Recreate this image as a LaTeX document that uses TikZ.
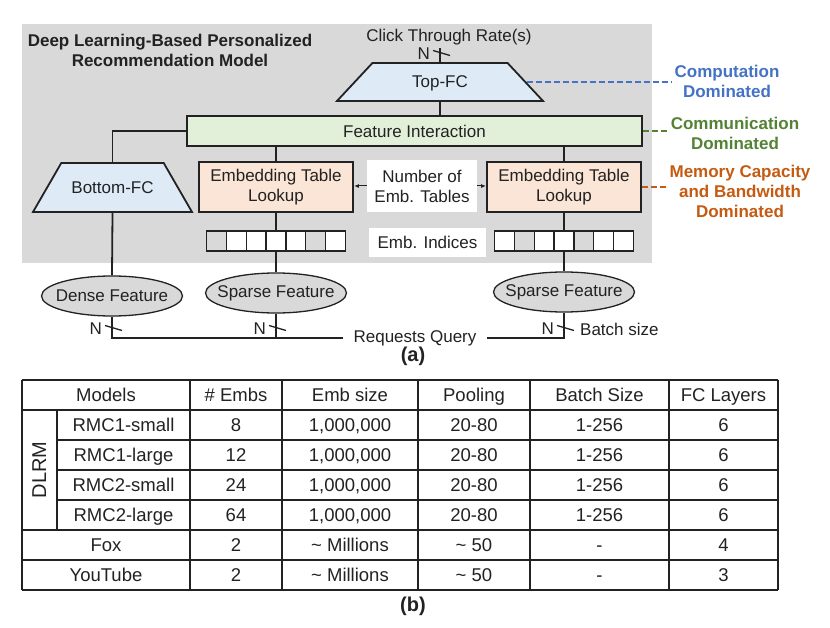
\documentclass[tikz,border=0pt]{standalone}
\usepackage{fontspec}
\setmainfont{Liberation Sans}
\usetikzlibrary{positioning,shapes,arrows.meta,calc}
\definecolor{bggray}{HTML}{D9D9D9}
\definecolor{fcblue}{HTML}{DEEBF7}
\definecolor{figreen}{HTML}{E2F0D9}
\definecolor{embpeach}{HTML}{FBE5D6}
\definecolor{compblue}{HTML}{4472C4}
\definecolor{commgreen}{HTML}{548235}
\definecolor{memorange}{HTML}{C55A11}
\definecolor{linegray}{HTML}{222222}

\begin{document}
\begin{tikzpicture}[x=1pt,y=-1pt,color=linegray,
      font=\fontsize{17}{20}\selectfont,
      block/.style={rectangle, draw, line width=1.8pt, align=center, inner sep=0pt},
      fc/.style={trapezium, draw, line width=1.8pt, fill=fcblue, trapezium stretches body=true, inner xsep=0pt, text height=12pt, text depth=0pt},
      feat/.style={ellipse, draw, line width=1.3pt, fill=bggray, minimum width=141pt, minimum height=40pt, inner sep=0pt},
      cell/.style={rectangle, draw, line width=1.4pt, minimum width=19.86pt, minimum height=20pt, inner sep=0pt},
      tag/.style={rectangle, fill=white, align=center, inner sep=0pt},
      wire/.style={line width=1.8pt},
      dom/.style={font=\fontsize{17}{20}\selectfont\bfseries, align=center, inner sep=3pt},
      hint/.style={line width=1.5pt, dash pattern=on 6pt off 3pt},
      grid/.style={line width=1.3pt},
      tcell/.style={font=\fontsize{18.5}{22}\selectfont, text height=13pt, text depth=0pt, inner sep=0pt}
      ]
      \useasboundingbox (0,0) rectangle (830,628);
      \fill[bggray] (22,24) rectangle (652,263);
      \node[font=\fontsize{17}{20}\selectfont\bfseries, align=center] (TITLE) at (170,50) {Deep Learning-Based Personalized\\Recommendation Model};
      \node (CTR) at (449,37) {Click Through Rate(s)};
      \node[fc, trapezium angle=47, inner ysep=13pt, minimum width=206pt] (TOP) at (440,82) {Top-FC};
      \node[block, fill=figreen, minimum width=455pt, minimum height=30pt] (FI) at (414.5,131) {Feature Interaction};
      \node[fc, trapezium angle=60, inner ysep=18.5pt, minimum width=159pt] (BOT) at (112.5,187.5) {Bottom-FC};
      \node[block, fill=embpeach, minimum width=154pt, minimum height=50pt] (ETL1) at (276,187) {Embedding Table\\Lookup};
      \node[block, fill=embpeach, minimum width=154pt, minimum height=50pt] (ETL2) at (564,187) {Embedding Table\\Lookup};
      \node[tag, minimum width=110pt, minimum height=52pt] (NUM) at (422,186) {Number of\\Emb. Tables};
      \node[tag, minimum width=117pt, minimum height=29pt] (IDX) at (427.5,242.5) {Emb. Indices};
      \foreach \i/\c in {1/bggray,2/white,3/white,4/white,5/white,6/bggray,7/white}
        \node[cell, fill=\c] (IA\i) at ({276+(\i-4)*19.86},241) {};
      \foreach \i/\c in {1/white,2/bggray,3/white,4/white,5/bggray,6/white,7/white}
        \node[cell, fill=\c] (IB\i) at ({564+(\i-4)*19.86},241) {};
      \node[feat, label=center:Dense Feature] (DEN) at (112,296) {};
      \node[feat, label=center:Sparse Feature] (SP1) at (276,293) {};
      \node[feat, label=center:Sparse Feature] (SP2) at (564,292) {};
      \node[inner xsep=10pt] (RQ) at (415,338) {Requests Query};
      \node[anchor=west, inner sep=0pt] (BS) at (580,329) {Batch size};
      \node[dom, text=compblue] (COMP) at (727,81) {Computation\\Dominated};
      \node[dom, text=commgreen] (COMM) at (735,133.5) {Communication\\Dominated};
      \node[dom, text=memorange] (MEM) at (740,191.5) {Memory Capacity\\and Bandwidth\\Dominated};
      \node[font=\fontsize{20}{24}\selectfont\bfseries] (LA) at (413,356) {(a)};

      \draw[wire] (TOP.north) -- (TOP.north |- CTR.south);
      \draw[wire] (TOP.south) -- (TOP.south |- FI.north);
      \draw[wire] (FI.west) -| (BOT.north);
      \draw[wire] (FI.south -| ETL1.north) -- (ETL1.north);
      \draw[wire] (FI.south -| ETL2.north) -- (ETL2.north);
      \draw[wire] (ETL1.south) -- (IA4.north);
      \draw[wire] (IA4.south) -- (SP1.north);
      \draw[wire] (ETL2.south) -- (IB4.north);
      \draw[wire] (IB4.south) -- (SP2.north);
      \draw[wire] (BOT.south) -- (DEN.north);
      \draw[wire] (DEN.south) |- (RQ.west);
      \draw[wire] (SP1.south) -- (SP1.south |- RQ.west);
      \draw[wire] (SP2.south) |- (RQ.east);
      \draw[line width=1pt, -{Latex[length=5pt,width=4pt]}] (NUM.west) -- (ETL1.east |- NUM.west);
      \draw[line width=1pt, -{Latex[length=5pt,width=4pt]}] (NUM.east) -- (ETL2.west |- NUM.east);
      \foreach \x/\y [count=\k] in {440/53,112/328,276/328,564/328} {
        \draw[line width=1.3pt] (\x-7,\y-2.5) -- (\x+10,\y+2.5);
        \node[left=10pt, inner sep=0pt] (N\k) at (\x,\y+1) {N};
      }
      \draw[hint, compblue] (TOP.east) -- (TOP.east -| COMP.west);
      \draw[hint, commgreen] (FI.east) -- (FI.east -| COMM.west);
      \draw[hint, memorange] (ETL2.east) -- (ETL2.east -| MEM.west);

      \foreach \y in {380,410,530,560,590} \draw[grid] (22,\y) -- (778,\y);
      \foreach \y in {440,470,500} \draw[grid] (57,\y) -- (778,\y);
      \foreach \x in {22,190,282,418,530,669,778} \draw[grid] (\x,380) -- (\x,590);
      \draw[grid] (57,410) -- (57,530);
      \path[every node/.style={tcell}] (106,395) node (H1) {Models} (236,395) node (H2) {\# Embs} (350,395) node (H3) {Emb size}
        (474,395) node (H4) {Pooling} (599.5,395) node (H5) {Batch Size} (723.5,395) node (H6) {FC Layers};
      \node[tcell, font=\fontsize{20}{24}\selectfont, rotate=90] (DLRM) at (39.5,470) {DLRM};
      \foreach \m/\e [count=\r] in {RMC1-small/8,RMC1-large/12,RMC2-small/24,RMC2-large/64} {
        \pgfmathsetmacro\y{395+30*\r}
        \path[every node/.style={tcell}] (123.5,\y) node (MOD\r) {\m} (236,\y) node (EMB\r) {\e} (350,\y) node (ESZ\r) {1,000,000}
          (474,\y) node (POOL\r) {20-80} (599.5,\y) node (BAT\r) {1-256} (723.5,\y) node (FC\r) {6};
      }
      \path[every node/.style={tcell}] (106,545) node (MOD5) {Fox} (236,545) node (EMB5) {2} (350,545) node (ESZ5) {\textasciitilde{} Millions}
        (474,545) node (POOL5) {\textasciitilde{} 50} (599.5,545) node (BAT5) {-} (723.5,545) node (FC5) {4};
      \path[every node/.style={tcell}] (106,575) node (MOD6) {YouTube} (236,575) node (EMB6) {2} (350,575) node (ESZ6) {\textasciitilde{} Millions}
        (474,575) node (POOL6) {\textasciitilde{} 50} (599.5,575) node (BAT6) {-} (723.5,575) node (FC6) {3};
      \node[font=\fontsize{20}{24}\selectfont\bfseries] (LB) at (413,606) {(b)};
    \end{tikzpicture}
\end{document}
